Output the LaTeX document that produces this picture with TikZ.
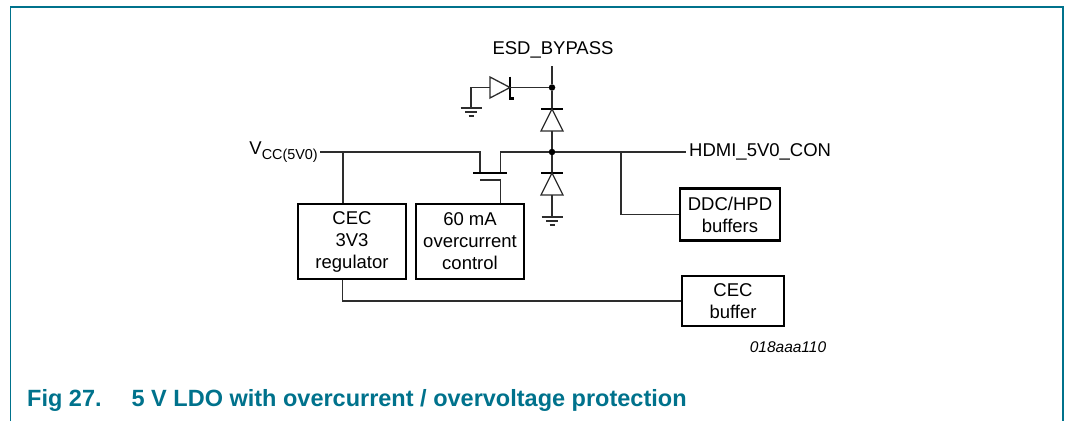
\documentclass[tikz,border=0pt]{standalone}
\usepackage{fontspec}
\setmainfont{Liberation Sans}
\usetikzlibrary{positioning}
\definecolor{figteal}{RGB}{0,114,140}
\definecolor{wiregray}{RGB}{45,45,45}

\tikzset{
  wire/.style={draw=wiregray, line width=1.3pt},
  plate/.style={draw=black, line width=2.6pt},
  block/.style={draw=black, line width=2.8pt, align=center, inner sep=0pt,
    font=\fontsize{18.5}{22}\selectfont},
  txt/.style={inner sep=0pt, font=\fontsize{18.5}{22}\selectfont},
  junction/.style={circle, fill=black, inner sep=0pt, minimum size=6.5pt},
  gnd/.pic={
    \draw[wire] (-10.5,0) -- (10.5,0);
    \draw[wire] (-6,4) -- (6,4);
    \draw[wire] (-2.5,8) -- (2.5,8);
  },
}

\begin{document}
\begin{tikzpicture}[x=1pt, y=-1pt]
    \useasboundingbox (0,0) rectangle (1066,421);
    % frame and caption
    \draw[figteal, line width=1.8pt] (10.5,421) -- (10.5,7) -- (1063,7) -- (1063,421);
    \node[anchor=west, inner sep=0pt, text=figteal,
      font=\fontsize{23.5}{26}\selectfont\bfseries] (caption) at (27,400)
      {Fig 27.\hspace{30pt}5 V LDO with overcurrent / overvoltage protection};
    \node[inner sep=0pt, font=\fontsize{15.5}{18}\selectfont\itshape] (figid) at (788,347) {018aaa110};

    % blocks
    \node[block, minimum width=108pt, minimum height=75pt] (reg) at (352,241.5) {CEC\\3V3\\regulator};
    \node[block, minimum width=108pt, minimum height=75pt] (ocp) at (470,241.5) {60 mA\\overcurrent\\control};
    \node[block, minimum width=100pt, minimum height=52pt] (ddc) at (730,214.5) {DDC/HPD\\buffers};
    \node[block, minimum width=102pt, minimum height=50pt] (cecbuf) at (733,301) {CEC\\buffer};

    % labels
    \node[txt] (esd) at (553,50) {ESD\_BYPASS};
    \node[txt, anchor=west] (hdmi) at (689,152) {HDMI\_5V0\_CON};
    \node[txt, anchor=east] (vcc) at (318,152)
      {V\raisebox{-4.5pt}{\fontsize{14.4}{15}\selectfont CC(5V0)}};

    % junctions and taps
    \node[junction] (j1) at (552,87.5) {};
    \node[junction] (j2) at (552,152) {};
    \coordinate (esdtop) at (552,66);
    \coordinate (vtap) at (343,152);
    \coordinate (qs) at (480,152);
    \coordinate (qd) at (500.7,152);
    \coordinate (dtap) at (621,152);
    \coordinate (rtap) at (342.5,301);
    \coordinate (hend) at (686,152);

    % supply rail
    \draw[wire] ([xshift=2pt]vcc.east) -- (qs) -- (480,173);
    \draw[wire] (vtap) -- (vtap |- reg.north);
    \draw[wire] (500.7,173) -- (qd) -- (j2) -- (hend);
    \draw[wire] (dtap) |- (ddc.west);
    \draw[wire] (rtap |- reg.south) -- (rtap) -- (rtap -| cecbuf.west);

    % pass transistor
    \draw[plate] (473,173) -- (507,173);
    \draw[wire] (480,180) -- (500.7,180) -- (500.7,0 |- ocp.north);

    % ESD diodes
    \draw[wire] (esdtop) -- (j1) -- (552,109);
    \draw[plate, line width=2.2pt] (541,109) -- (563,109);
    \draw[wire] (552,109) -- (541,131) -- (563,131) -- cycle;
    \draw[wire] (552,131) -- (j2) -- (552,173);
    \draw[plate, line width=2.2pt] (541,173) -- (563,173);
    \draw[wire] (552,173) -- (541,195) -- (563,195) -- cycle;
    \draw[wire] (552,195) -- (552,217);
    \pic at (552,217) {gnd};

    % bypass diode
    \draw[wire] (j1) -- (510,87.5);
    \draw[plate, line width=2.2pt] (510,76.5) -- (510,98.5) -- (513.5,98.5);
    \draw[wire] (510,87.5) -- (490,77) -- (490,98) -- cycle;
    \draw[wire] (490,87.5) -- (471,87.5) -- (471,108);
    \pic at (471,108) {gnd};
\end{tikzpicture}
\end{document}
